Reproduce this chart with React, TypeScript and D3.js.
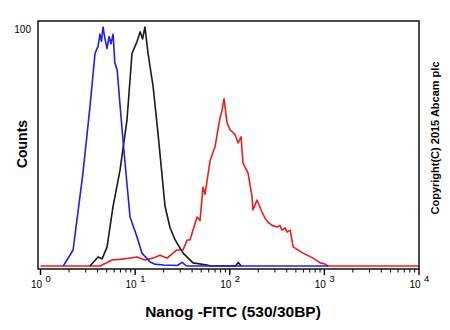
import React from 'react';
import * as d3 from 'd3';

// fluorescence (FITC) value and counts for each histogram
const blueX = [1.74, 2.21, 2.81, 3.33, 3.77, 4.06, 4.25, 4.41, 4.58, 4.8, 5.05, 5.3, 5.55, 5.85, 6.1, 6.46, 7.28, 7.83, 8.83, 10.5, 11.8, 14.4, 16, 20, 28, 31.4, 35, 100, 1100];
const blueY = [0, 6.7, 38.9, 66.5, 89, 92, 97, 94, 100, 95, 91, 96, 93, 97, 85, 82, 57, 43, 20.5, 12, 5.4, 1.7, 0.8, 0.4, 0.2, 1.5, 0, 0, 0];

const blackX = [3.33, 4.06, 4.47, 5.05, 5.83, 6.92, 8.2, 9.27, 10.5, 11.3, 12.0, 12.7, 13.7, 15.5, 17.5, 20.7, 23.4, 26.5, 32.1, 40.9, 57.5, 63, 115, 123, 132];
const blackY = [0, 3.8, 3, 7.9, 24.7, 40, 61, 89, 94, 98, 95, 100, 89, 75, 55, 25, 16, 10.9, 5.4, 1.3, 0.4, 0, 0, 1.5, 0];

const redX = [1, 4.27, 5.7, 7.76, 10.5, 12.7, 15.5, 18.3, 21.7, 27.7, 32.1, 35.4, 38, 45.1, 48.5, 52.2, 54.8, 61.9, 70, 73.5, 78.9, 82.8, 87.1, 93.5, 100.7, 113.8, 122.5, 131.8, 138, 156, 172, 176, 194, 219, 236, 254, 280, 316, 339, 357, 385, 404, 435, 468, 490, 596, 759, 902, 1016, 1096, 10000];
const redY = [0, 0, 2.5, 3, 3.8, 2.5, 3.3, 4.5, 3.3, 6.7, 6.7, 10.9, 10.9, 20.5, 19, 33, 30, 44, 50, 55, 62, 65, 70, 60, 57, 55, 51.5, 54, 43, 39, 29, 23.4, 27.6, 22.6, 20, 18.4, 17, 16.3, 17, 15, 16, 14.2, 15, 8, 7.5, 5.4, 3.3, 1.3, 0.8, 0, 0];

const decades = [0, 1, 2, 3, 4];

const font = '"Liberation Sans", Arial, sans-serif';

export default function App() {
  const left = 38, right = 419, top = 21, bottom = 269;
  const x = d3.scaleLog().domain([1, 10000]).range([40.5, 419]);
  const y = d3.scaleLinear().domain([0, 100]).range([266, 27]);

  const line = d3.line<[number, number]>().x(d => x(d[0])).y(d => y(d[1]));
  const path = (xs: number[], ys: number[]) => line(xs.map((v, i) => [v, ys[i]]) as [number, number][]) || '';

  const minor: number[] = [];
  for (let e = 0; e < 4; e++) for (let k = 2; k <= 9; k++) minor.push(k * Math.pow(10, e));

  return (
    <svg width={450} height={330} style={{ position: 'absolute', left: 0, top: 0, background: '#fff' }}>
      <rect x={0} y={0} width={450} height={330} fill="#fff" />
      <path d={path(redX, redY)} fill="none" stroke="#ee1c1c" strokeWidth={1.6} strokeLinejoin="round" />
      <path d={path(blackX, blackY)} fill="none" stroke="#1a1a1a" strokeWidth={1.6} strokeLinejoin="round" />
      <path d={path(blueX, blueY)} fill="none" stroke="#1f1fe6" strokeWidth={1.6} strokeLinejoin="round" />
      <rect x={left} y={top} width={right - left} height={bottom - top} fill="none" stroke="#000" strokeWidth={1.4} />
      {minor.map(v => (
        <line key={v} x1={x(v)} x2={x(v)} y1={bottom} y2={bottom + 3.5} stroke="#000" strokeWidth={1} />
      ))}
      {decades.map(d => (
        <g key={d}>
          <line x1={x(Math.pow(10, d))} x2={x(Math.pow(10, d))} y1={bottom} y2={bottom + 6} stroke="#000" strokeWidth={1.4} />
          <text x={x(Math.pow(10, d)) + 1.5} y={288} fontFamily={font} fontSize={10} textAnchor="end">10</text>
          <text x={x(Math.pow(10, d)) + 5} y={282} fontFamily={font} fontSize={9.5}>{d}</text>
        </g>
      ))}
      <text x={31} y={33} fontFamily={font} fontSize={10} textAnchor="end">100</text>
      <text transform="translate(27,144) rotate(-90)" fontFamily={font} fontSize={14} fontWeight="bold" textAnchor="middle">Counts</text>
      <text x={233} y={317} fontFamily={font} fontSize={15.5} fontWeight="bold" textAnchor="middle">Nanog -FITC (530/30BP)</text>
      <text transform="translate(439,138) rotate(-90)" fontFamily={font} fontSize={11} fontWeight="bold" textAnchor="middle">Copyright(C) 2015 Abcam plc</text>
    </svg>
  );
}
